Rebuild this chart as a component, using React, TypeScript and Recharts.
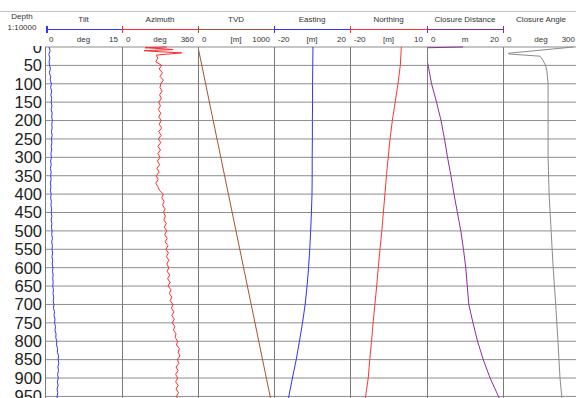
import React from "react";
import { LineChart, Line, XAxis, YAxis, CartesianGrid } from "recharts";

const FONT = '"Liberation Sans", Arial, Helvetica, sans-serif';
const PX_PER_M = 0.3678;
const CLIP_TOP = 46;
const PAD = 21; // hidden room above depth 0 so the "0" label gets cut like the original

// track layout and header texts
const trackTitles = ["Tilt", "Azimuth", "TVD", "Easting", "Northing", "Closure Distance", "Closure Angle"];
const trackUnits = ["deg", "deg", "[m]", "[m]", "[m]", "m", "deg"];
const trackMin = [0, 0, 0, -20, -20, 0, 0];
const trackMax = [15, 360, 1000, 20, 10, 20, 300];
const trackColors = ["#3535ff", "#ff2a2a", "#a5522d", "#2f2fff", "#ff3333", "#8e2a9e", "#8a8a8a"];
const scaleBar = [true, true, true, true, true, true, false];
const trackEdges = [45, 122, 198, 274, 350, 427, 503, 579];
const depthTicks = [0, 50, 100, 150, 200, 250, 300, 350, 400, 450, 500, 550, 600, 650, 700, 750, 800, 850, 900, 950, 1000];

// Tilt [deg]
const tiltDepth = [
  0, 10, 20, 30, 40, 50, 60, 70, 80, 90, 100, 110, 120, 130, 140, 150, 160, 170, 180, 190,
  200, 210, 220, 230, 240, 250, 260, 270, 280, 290, 300, 310, 320, 330, 340, 350, 360, 370, 380, 390,
  400, 410, 420, 430, 440, 450, 460, 470, 480, 490, 500, 510, 520, 530, 540, 550, 560, 570, 580, 590,
  600, 610, 620, 630, 640, 650, 660, 670, 680, 690, 700, 710, 720, 730, 740, 750, 760, 770, 780, 790,
  800, 810, 820, 830, 840, 850, 860, 870, 880, 890, 900, 910, 920, 930, 940, 950, 960,
];
const tiltDeg = [
  0.8, 1.0, 0.75, 0.95, 0.8, 0.9, 1.05, 0.85, 1.1, 1.0, 1.25, 1.1, 1.3, 1.15, 1.3, 1.2, 1.35, 1.2, 1.4, 1.3,
  1.45, 1.3, 1.4, 1.25, 1.4, 1.25, 1.35, 1.2, 1.3, 1.15, 1.25, 1.1, 1.2, 1.05, 1.2, 1.1, 1.2, 1.05, 1.15, 1.05,
  1.2, 1.1, 1.25, 1.15, 1.3, 1.2, 1.35, 1.2, 1.35, 1.25, 1.4, 1.3, 1.45, 1.3, 1.45, 1.35, 1.5, 1.35, 1.5, 1.4,
  1.55, 1.45, 1.6, 1.5, 1.6, 1.5, 1.65, 1.55, 1.7, 1.6, 1.75, 1.65, 1.85, 1.75, 1.95, 1.85, 2.05, 1.95, 2.15, 2.1,
  2.3, 2.25, 2.45, 2.4, 2.65, 2.55, 2.7, 2.5, 2.65, 2.45, 2.6, 2.4, 2.55, 2.35, 2.5, 2.35, 2.45,
];

// Azimuth [deg]
const aziDepth = [
  0, 2, 5, 7, 10, 13, 16, 20, 22, 27,
  30, 40, 50, 60, 70, 80, 90, 100, 110, 120, 130, 140, 150, 160, 170, 180, 190,
  200, 210, 220, 230, 240, 250, 260, 270, 280, 290, 300, 310, 320, 330, 340, 350, 360, 370, 380, 390,
  400, 410, 420, 430, 440, 450, 460, 470, 480, 490, 500, 510, 520, 530, 540, 550, 560, 570, 580, 590,
  600, 610, 620, 630, 640, 650, 660, 670, 680, 690, 700, 710, 720, 730, 740, 750, 760, 770, 780, 790,
  800, 810, 820, 830, 840, 850, 860, 870, 880, 890, 900, 910, 920, 930, 940, 950, 960,
];
const aziDeg = [
  212, 109, 200, 242, 104, 180, 283, 200, 164, 166,
  170, 160, 188, 176, 192, 180, 196, 184, 180, 190, 178, 186, 174, 182, 172, 184, 174,
  186, 176, 188, 174, 186, 172, 184, 170, 182, 170, 180, 168, 178, 166, 176, 162, 172, 160, 170, 178,
  196, 188, 200, 192, 204, 196, 206, 198, 210, 200, 212, 202, 214, 204, 218, 208, 220, 210, 222, 212,
  222, 214, 226, 216, 228, 218, 232, 224, 236, 228, 242, 234, 246, 236, 248, 238, 250, 244, 256, 252,
  264, 258, 272, 266, 274, 262, 270, 256, 266, 254, 264, 254, 266, 256, 268, 258, 266,
];

// TVD [m]
const tvdDepth = [0, 100, 200, 300, 400, 500, 600, 700, 800, 900, 1000];
const tvdM = [0, 100, 200, 300, 399.9, 499.8, 599.8, 699.7, 799.6, 899.4, 999.2];

// Easting [m]
const eastDepth = [0, 50, 100, 150, 200, 250, 300, 350, 400, 450, 500, 550, 600, 650, 700, 750, 800, 850, 900, 950, 1000];
const eastM = [0.5, 0.4, 0.3, 0.3, 0.2, 0.2, 0.1, 0.1, 0, -0.3, -0.7, -1.2, -1.8, -2.6, -3.6, -5.0, -6.6, -8.3, -10.3, -12.2, -14.2];

// Northing [m]
const northDepth = [0, 50, 100, 150, 200, 250, 300, 350, 400, 450, 500, 550, 600, 650, 700, 750, 800, 850, 900, 950, 1000];
const northM = [0, -0.4, -1.3, -2.4, -3.5, -4.4, -5.1, -5.8, -6.4, -7.0, -7.6, -8.3, -9.0, -9.6, -10.3, -11.0, -11.6, -12.3, -12.9, -13.9, -14.8];

// Closure distance [m]
const cdDepth = [0, 2, 40, 50, 100, 150, 200, 250, 300, 350, 400, 450, 500, 550, 600, 650, 700, 750, 800, 850, 900, 950, 1000];
const cdM = [9.5, 0, 0.1, 0.3, 1.2, 2.5, 3.7, 4.6, 5.4, 6.3, 7.1, 8.0, 8.9, 9.6, 10.2, 10.6, 11.0, 12.1, 13.3, 14.8, 16.6, 18.8, 21];

// Closure angle [deg]
const caDepth = [0, 17, 19, 25, 36, 42, 50, 64, 100, 200, 300, 400, 500, 600, 700, 800, 900, 950, 1000];
const caDeg = [278, 21, 24, 146, 158, 162, 168, 173, 178, 178, 178, 182, 190, 198, 208, 217, 225, 232, 238];

const zip = (depths: number[], values: number[]) =>
  depths.map((d, k) => ({ depth: d, v: values[k] }));

const series = [
  zip(tiltDepth, tiltDeg),
  zip(aziDepth, aziDeg),
  zip(tvdDepth, tvdM),
  zip(eastDepth, eastM),
  zip(northDepth, northM),
  zip(cdDepth, cdM),
  zip(caDepth, caDeg),
];

const txt = (s: string, x: number, y: number, align: "left" | "center" | "right", size = 8) => {
  const w = 80;
  const left = align === "left" ? x : align === "center" ? x - w / 2 : x - w;
  return (
    <div
      key={s + x + y}
      style={{
        position: "absolute",
        left,
        top: y - 6,
        width: w,
        height: 12,
        lineHeight: "12px",
        fontSize: size,
        textAlign: align,
        color: "#333",
        whiteSpace: "nowrap",
      }}
    >
      {s}
    </div>
  );
};

const Header = () => (
  <>
    <div style={{ position: "absolute", left: 0, top: 11, width: 576, height: 1, background: "#c4c4c4" }} />
    {txt("Depth", 22, 17, "center")}
    {txt("1:10000", 22, 28, "center")}
    {trackTitles.map((t, i) => {
      const l = trackEdges[i];
      const r = trackEdges[i + 1];
      return (
        <React.Fragment key={t}>
          {txt(t, (l + r) / 2, 20, "center")}
          {txt(String(trackMin[i]), l + 4, 40, "left")}
          {txt(trackUnits[i], (l + r) / 2, 40, "center")}
          {txt(String(trackMax[i]), r - 4, 40, "right")}
        </React.Fragment>
      );
    })}
    {trackTitles.map((t, i) => {
      if (!scaleBar[i]) return null;
      const l = i === 0 ? trackEdges[i] + 1.5 : trackEdges[i];
      const r = trackEdges[i + 1];
      const c = trackColors[i];
      return (
        <React.Fragment key={"bar" + t}>
          <div style={{ position: "absolute", left: l, top: 29, width: r - l, height: 1, background: c }} />
          <div style={{ position: "absolute", left: l - 0.5, top: 26, width: 1.5, height: 7, background: c }} />
          <div style={{ position: "absolute", left: r - 0.5, top: 26, width: 1.5, height: 7, background: c }} />
        </React.Fragment>
      );
    })}
  </>
);

const Track = ({ i }: { i: number }) => {
  const first = i === 0;
  const w = trackEdges[i + 1] - trackEdges[i];
  return (
    <div style={{ position: "absolute", left: first ? 0 : trackEdges[i], top: -PAD + 1 }}>
      <LineChart
        layout="vertical"
        width={first ? trackEdges[1] : w}
        height={PAD + 1000 * PX_PER_M}
        data={series[i]}
        margin={{ top: PAD, right: 0, bottom: 0, left: 0 }}
      >
        <CartesianGrid vertical={false} stroke="#8c8c8c" />
        <XAxis type="number" dataKey="v" domain={[trackMin[i], trackMax[i]]} hide allowDataOverflow />
        <YAxis
          type="number"
          dataKey="depth"
          domain={[0, 1000]}
          ticks={depthTicks}
          interval={0}
          hide={!first}
          width={45}
          axisLine={false}
          tickLine={false}
          tickSize={0}
          tickMargin={3}
          tick={{ fontSize: 16.5, fill: "#222", fontFamily: FONT }}
        />
        <Line
          type="linear"
          dataKey="v"
          stroke={trackColors[i]}
          strokeWidth={1}
          dot={false}
          isAnimationActive={false}
        />
      </LineChart>
    </div>
  );
};

export default function App() {
  return (
    <div
      style={{
        position: "relative",
        width: 576,
        height: 398,
        overflow: "hidden",
        background: "#fff",
        fontFamily: FONT,
      }}
    >
      <style>{"body{margin:0}"}</style>
      <Header />
      <div style={{ position: "absolute", left: 0, top: CLIP_TOP, width: 576, height: 398 - CLIP_TOP, overflow: "hidden" }}>
        {trackTitles.map((t, i) => (
          <Track key={t} i={i} />
        ))}
        {trackEdges.map((x) => (
          <div key={x} style={{ position: "absolute", left: x, top: 1, width: 1, height: 398, background: "#7a7a7a" }} />
        ))}
      </div>
    </div>
  );
}
